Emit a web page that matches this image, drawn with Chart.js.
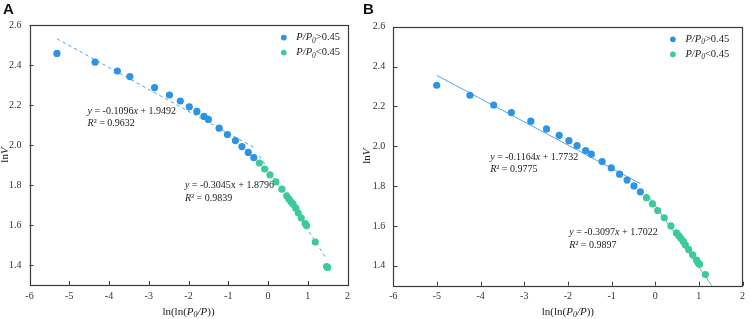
<!DOCTYPE html>
<html>
<head>
<meta charset="utf-8">
<script src="https://cdn.jsdelivr.net/npm/chart.js@4/dist/chart.umd.min.js"></script>
<style>
  body { margin: 0; background: #fff; }
  #wrap { position: relative; width: 750px; height: 319px; overflow: hidden; }
  .panel { position: absolute; top: 0; height: 319px; }
  .tag { position: absolute; top: 0; font: bold 15px "Liberation Sans", Arial, sans-serif; color: #111; }
</style>
</head>
<body>
<div id="wrap">
  <div class="panel" style="left:0;width:355px"><canvas id="chartA"></canvas></div>
  <div class="panel" style="left:355px;width:395px"><canvas id="chartB"></canvas></div>
  <div class="tag" style="left:3px">A</div>
  <div class="tag" style="left:363px">B</div>
</div>
<script>
// axes
const xTicks = [-6, -5, -4, -3, -2, -1, 0, 1, 2]
const yTicks = [1.4, 1.6, 1.8, 2.0, 2.2, 2.4, 2.6]

// panel A
const aHighX = [-5.31, -4.35, -3.79, -3.475, -2.853, -2.48, -2.206, -1.98, -1.79, -1.61, -1.50, -1.23, -1.02, -0.82, -0.656, -0.497, -0.357]
const aHighY = [2.458, 2.414, 2.370, 2.342, 2.287, 2.250, 2.220, 2.191, 2.168, 2.143, 2.128, 2.084, 2.052, 2.022, 1.992, 1.963, 1.937]
const aLowX = [-0.216, -0.084, 0.05, 0.199, 0.35, 0.47, 0.53, 0.58, 0.63, 0.70, 0.76, 0.836, 0.935, 0.97, 1.19, 1.475, 1.50]
const aLowY = [1.910, 1.880, 1.851, 1.816, 1.779, 1.746, 1.729, 1.716, 1.704, 1.684, 1.660, 1.635, 1.607, 1.597, 1.515, 1.392, 1.388]

// panel B
const bHighX = [-5.006, -4.244, -3.70, -3.295, -2.85, -2.49, -2.20, -1.977, -1.79, -1.593, -1.464, -1.216, -1.006, -0.816, -0.644, -0.486, -0.34]
const bHighY = [2.306, 2.256, 2.207, 2.169, 2.126, 2.087, 2.055, 2.028, 2.003, 1.978, 1.960, 1.923, 1.891, 1.860, 1.830, 1.801, 1.771]
const bLowX = [-0.199, -0.063, 0.057, 0.208, 0.36, 0.486, 0.54, 0.585, 0.644, 0.69, 0.766, 0.857, 0.947, 0.983, 1.015, 1.15]
const bLowY = [1.742, 1.711, 1.677, 1.641, 1.600, 1.565, 1.552, 1.539, 1.522, 1.505, 1.482, 1.455, 1.429, 1.415, 1.408, 1.356]

// fits: slope, intercept, x range
const aFitHigh = [-0.1096, 1.9492, -5.31, -0.35]
const aFitLow = [-0.3045, 1.8796, -0.22, 1.475]
const bFitHigh = [-0.1164, 1.7732, -5.0, -0.34]
const bFitLow = [-0.3097, 1.7022, -0.19, 1.3]

const BLUE = "#2b94e6"
const GREEN = "#3cc99b"
const SERIF = '"Liberation Serif", "Times New Roman", serif'

const pts = (xs, ys) => xs.map((x, i) => ({ x: x, y: ys[i] }))
const fitPts = f => [f[2], f[3]].map(x => ({ x: x, y: f[0] * x + f[1] }))

// rich text: [text, italic, subscript]
function segFont(seg, size) {
  return (seg[1] ? "italic " : "") + (seg[2] ? size * 0.72 : size) + "px " + SERIF
}
function richWidth(ctx, segs, size) {
  let w = 0
  segs.forEach(s => { ctx.font = segFont(s, size); w += ctx.measureText(s[0]).width })
  return w
}
function drawRich(ctx, segs, x, y, size, align) {
  if (align === "center") x -= richWidth(ctx, segs, size) / 2
  ctx.textBaseline = "middle"
  ctx.textAlign = "left"
  segs.forEach(s => {
    ctx.font = segFont(s, size)
    ctx.fillText(s[0], x, s[2] ? y + size * 0.3 : y)
    x += ctx.measureText(s[0]).width
  })
}

const xTitle = [["ln(ln(", 0], ["P", 1], ["0", 1, 1], ["/", 1], ["P", 1], ["))", 0]]
const yTitle = [["ln", 0], ["V", 1]]
const legHigh = [["P", 1], ["/", 1], ["P", 1], ["0", 1, 1], [">0.45", 0]]
const legLow = [["P", 1], ["/", 1], ["P", 1], ["0", 1, 1], ["<0.45", 0]]

const decor = {
  id: "decor",
  afterDraw(chart) {
    const o = chart.options.plugins.decor
    const ctx = chart.ctx
    const a = chart.chartArea
    const xs = chart.scales.x, ys = chart.scales.y
    ctx.save()
    // frame + inward ticks
    ctx.strokeStyle = "#3a3a3a"
    ctx.lineWidth = 1.2
    ctx.strokeRect(Math.round(a.left) + 0.5, Math.round(a.top) + 0.5, Math.round(a.right - a.left), Math.round(a.bottom - a.top))
    ctx.lineWidth = 1
    ctx.beginPath()
    xTicks.forEach(v => {
      const px = Math.round(xs.getPixelForValue(v)) + 0.5
      ctx.moveTo(px, a.bottom); ctx.lineTo(px, a.bottom - 4)
    })
    yTicks.forEach(v => {
      const py = Math.round(ys.getPixelForValue(v)) + 0.5
      ctx.moveTo(a.left, py); ctx.lineTo(a.left + 4, py)
    })
    ctx.stroke()

    ctx.fillStyle = "#222"
    // axis titles
    drawRich(ctx, xTitle, (a.left + a.right) / 2, chart.height - 7, 11, "center")
    ctx.save()
    ctx.translate(o.yTitleX, (a.top + a.bottom) / 2)
    ctx.rotate(-Math.PI / 2)
    drawRich(ctx, yTitle, 0, 0, 11, "center")
    ctx.restore()

    // equations
    o.notes.forEach(n => {
      const px = xs.getPixelForValue(n.x), py = ys.getPixelForValue(n.y)
      drawRich(ctx, n.l1, px, py, 10)
      drawRich(ctx, n.l2, px, py + 12.5, 10)
    })

    // legend
    const lx = a.right - o.legRight, ly = a.top + 12.6
    ;[[BLUE, legHigh], [GREEN, legLow]].forEach((it, i) => {
      ctx.fillStyle = it[0]
      ctx.beginPath(); ctx.arc(lx, ly + i * 15, 2.9, 0, Math.PI * 2); ctx.fill()
      ctx.fillStyle = "#222"
      drawRich(ctx, it[1], lx + 12.5, ly + i * 15, 10.5)
    })
    ctx.restore()
  }
}

function makeChart(id, high, low, fitHigh, fitLow, dashed, dims, notes) {
  const lineSet = (f, c) => ({
    type: "line", data: fitPts(f), borderColor: c, borderWidth: 1,
    borderDash: dashed ? [3.5, 3] : [], pointRadius: 0, fill: false, order: 2
  })
  return new Chart(document.getElementById(id), {
    type: "scatter",
    data: {
      datasets: [
        { data: high, backgroundColor: BLUE, borderWidth: 0, pointRadius: 3.6, order: 1 },
        { data: low, backgroundColor: GREEN, borderWidth: 0, pointRadius: 3.6, order: 1 },
        lineSet(fitHigh, "#4ea8ea"),
        lineSet(fitLow, "#3cc99b"),
      ],
    },
    options: {
      responsive: false,
      animation: false,
      layout: { padding: { top: dims.top, right: dims.right, left: 0, bottom: 0 } },
      plugins: {
        legend: { display: false },
        tooltip: { enabled: false },
        decor: { notes: notes, yTitleX: dims.yTitleX, legRight: dims.legRight },
      },
      scales: {
        x: {
          type: "linear", min: -6, max: 2,
          afterBuildTicks: s => { s.ticks = xTicks.map(v => ({ value: v })) },
          afterFit: s => { s.height = dims.xh },
          grid: { display: false, drawTicks: false },
          border: { display: false },
          ticks: { padding: 5, color: "#333", font: { family: SERIF, size: 10 } },
        },
        y: {
          type: "linear", min: 1.3, max: 2.6,
          afterBuildTicks: s => { s.ticks = yTicks.map(v => ({ value: v })) },
          afterFit: s => { s.width = dims.yw },
          grid: { display: false, drawTicks: false },
          border: { display: false },
          ticks: { padding: 8, color: "#333", font: { family: SERIF, size: 10 }, callback: v => v.toFixed(1) },
        },
      },
    },
    plugins: [decor],
  })
}

const pintar = () => {
  const cA = document.getElementById("chartA"); cA.width = 355; cA.height = 319
  const cB = document.getElementById("chartB"); cB.width = 395; cB.height = 319
  makeChart("chartA", pts(aHighX, aHighY), pts(aLowX, aLowY), aFitHigh, aFitLow, true,
    { top: 25, right: 4, xh: 34, yw: 29.5, yTitleX: 5, legRight: 63.7 },
    [
      { x: -4.54, y: 2.169, l1: [["y", 1], [" = -0.1096", 0], ["x", 1], [" + 1.9492", 0]], l2: [["R", 1], ["² = 0.9632", 0]] },
      { x: -2.09, y: 1.797, l1: [["y", 1], [" = -0.3045x + 1.8796", 0]], l2: [["R", 1], ["² = 0.9839", 0]] },
    ])
  makeChart("chartB", pts(bHighX, bHighY), pts(bLowX, bLowY), bFitHigh, bFitLow, false,
    { top: 26.7, right: 2.7, xh: 33.3, yw: 38.3, yTitleX: 12, legRight: 69.6 },
    [
      { x: -3.78, y: 1.945, l1: [["y", 1], [" = -0.1164", 0], ["x", 1], [" + 1.7732", 0]], l2: [["R", 1], ["² = 0.9775", 0]] },
      { x: -1.97, y: 1.567, l1: [["y", 1], [" = -0.3097", 0], ["x", 1], [" + 1.7022", 0]], l2: [["R", 1], ["² = 0.9897", 0]] },
    ])
}

window.addEventListener("load", pintar)
</script>
</body>
</html>
